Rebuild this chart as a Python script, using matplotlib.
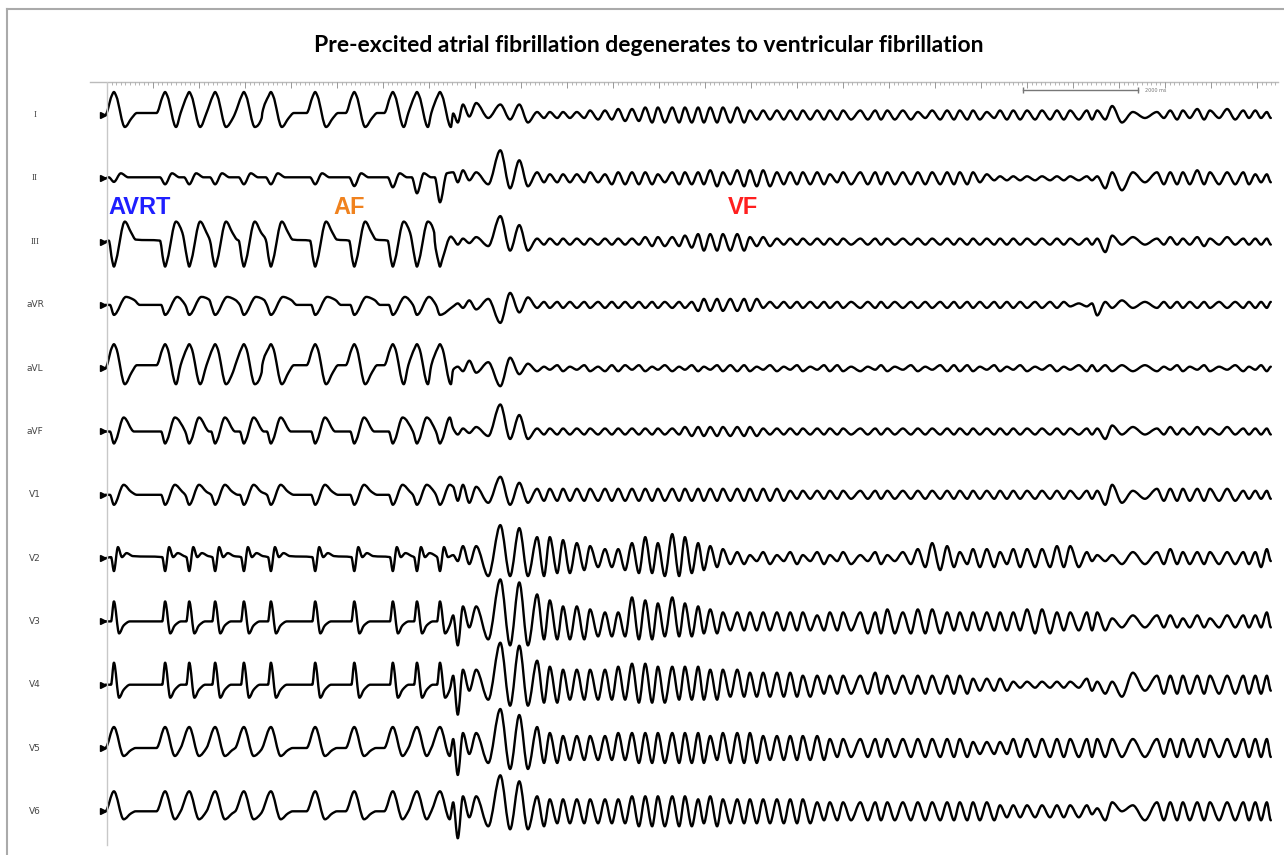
import numpy as np
import matplotlib.pyplot as plt
from matplotlib.lines import Line2D
from matplotlib.path import Path
from matplotlib.patches import PathPatch

# 12-lead ECG, pre-excited AF degenerating to VF
LEADS = ["I", "II", "III", "aVR", "aVL", "aVF", "V1", "V2", "V3", "V4", "V5", "V6"]

# QRS times of the wide pre-excited beats (s)
BEATS = [0.12, 1.01, 1.43, 1.88, 2.38, 2.85, 3.62, 4.30, 4.97, 5.39, 5.79]

# beat shape per lead: (time from beat s, amplitude mV)
TEMPLATES = {
    "I":   [(-0.15, 0.2), (-0.04, 1.9), (0, 2.3), (0.04, 1.9), (0.19, -1.2), (0.31, -0.3), (0.40, 0.2)],
    "II":  [(-0.09, 0.1), (0, -0.6), (0.12, 0.5), (0.25, 0.1)],
    "III": [(-0.09, 0.1), (-0.03, -1.9), (0, -2.5), (0.04, -1.8), (0.19, 2.0), (0.30, 0.9), (0.38, 0.2)],
    "aVR": [(-0.07, 0.0), (0, -1.0), (0.21, 0.8), (0.35, 0.5), (0.45, 0.0)],
    "aVL": [(-0.15, 0.3), (-0.04, 2.0), (0, 2.4), (0.04, 2.0), (0.19, -1.6), (0.31, -0.4), (0.40, 0.3)],
    "aVF": [(-0.07, 0.0), (0, -1.2), (0.04, -0.8), (0.17, 1.4), (0.35, 0.0)],
    "V1":  [(-0.07, 0.0), (0, -1.0), (0.17, 1.0), (0.30, 0.3), (0.40, 0.0)],
    "V2":  [(-0.05, 0.1), (0, -1.3), (0.07, 1.1), (0.14, 0.1), (0.22, 0.5), (0.33, 0.2)],
    "V3":  [(-0.05, 0.0), (0, 2.0), (0.09, -1.2), (0.17, -0.4), (0.28, 0.0)],
    "V4":  [(-0.05, 0.0), (0, 2.2), (0.09, -1.3), (0.17, -0.5), (0.28, 0.0)],
    "V5":  [(-0.15, 0.0), (0, 2.1), (0.17, -0.8), (0.30, -0.2), (0.38, 0.0)],
    "V6":  [(-0.15, 0.0), (0, 2.0), (0.17, -0.8), (0.30, -0.2), (0.38, 0.0)],
}
NEG_GAIN = {"II": [0.6, 1, 1, 1, 1, 1, 1, 1.3, 1.5, 2.5, 4.0]}
POS_GAIN = {"III": [1, 1, 1, 1, 1, 1, 1, 1, 1, 1, 0.25]}

# extremum times of the fibrillation (peak, trough, peak, ...) in s
VF_T = [6.02, 6.10, 6.19, 6.30, 6.42, 6.63, 6.84, 7.01, 7.17, 7.32, 7.48, 7.60,
        7.70, 7.83, 7.93, 8.05, 8.17, 8.30, 8.40, 8.54, 8.66, 8.78, 8.89, 9.01,
        9.13, 9.25, 9.36, 9.48, 9.58, 9.70, 9.83, 9.95, 10.05, 10.17, 10.28, 10.38,
        10.49, 10.61, 10.71, 10.84, 10.96, 11.08, 11.18, 11.30, 11.41, 11.53, 11.65, 11.77,
        11.88, 12.00, 12.10, 12.23, 12.35, 12.47, 12.57, 12.70, 12.80, 12.94, 13.10, 13.23,
        13.36, 13.46, 13.57, 13.70, 13.84, 13.98, 14.10, 14.23, 14.35, 14.49, 14.61, 14.73,
        14.83, 14.96, 15.06, 15.18, 15.30, 15.43, 15.53, 15.65, 15.76, 15.88, 16.00, 16.14,
        16.26, 16.40, 16.52, 16.64, 16.75, 16.90, 17.04, 17.13, 17.22, 17.36, 17.48, 17.65,
        17.84, 18.05, 18.26, 18.38, 18.49, 18.61, 18.71, 18.83, 18.96, 19.08, 19.18, 19.34,
        19.48, 19.62, 19.76, 19.86, 19.97, 20.07, 20.17, 20.24]

# per-lead amplitude step (mV per digit) and inverted polarity
VF_UNIT = {"I": 0.15, "II": 0.2, "III": 0.15, "aVR": 0.15, "aVL": 0.15, "aVF": 0.15,
           "V1": 0.2, "V2": 0.3, "V3": 0.3, "V4": 0.3, "V5": 0.3, "V6": 0.3}
VF_FLIP = ["aVR", "aVL"]

# peak heights / trough depths of every fibrillation cycle, base-36 digits
VF_PEAK = {
    "I":   "178" "77" "2222334455" "55555533333333" "3333233332333333" "3362" "233434332",
    "II":  "343" "E9" "3222323332" "33343444333323" "3333333332111111" "1133" "333433322",
    "III": "223" "HB" "2222222233" "34555533222222" "2222222222222222" "2243" "232323222",
    "aVR": "123" "C5" "2222222222" "22444442222222" "2222222222222221" "1722" "222222222",
    "aVL": "123" "C4" "2121222121" "21212221212122" "2121212221212121" "2222" "212121212",
    "aVF": "223" "IB" "2222222222" "23333332222222" "2222222222222222" "2243" "232323222",
    "V1":  "454" "96" "3333333333" "33333333322222" "2222222222222222" "2252" "333333222",
    "V2":  "144" "BA" "7765433575" "87543212121212" "1212354233233344" "2112" "232222223",
    "V3":  "255" "ED" "9755433876" "86543333333233" "3343443333334433" "3312" "221212223",
    "V4":  "355" "ED" "8655556776" "66655544443333" "3433333322211111" "2114" "333333333",
    "V5":  "355" "DB" "7544445555" "55545554444433" "3333333322233333" "3333" "333333333",
    "V6":  "355" "CA" "5444444555" "55454444444333" "3333333333222222" "2132" "333333333",
}
VF_TROUGH = {
    "I":   "512" "35" "2222334455" "55555533333333" "3333233332333333" "3352" "232323222",
    "II":  "213" "54" "2222233332" "33343444333323" "3333333321111111" "1562" "333333322",
    "III": "213" "66" "2222222233" "34666633222222" "2222222222222222" "2722" "222322222",
    "aVR": "134" "85" "2222222222" "22444442222222" "2222222222222221" "1232" "222222222",
    "aVL": "154" "73" "1212122212" "12122212121221" "1212122212121212" "2222" "121212121",
    "aVF": "213" "55" "2222222222" "23333332222222" "2222222222222222" "2522" "222222222",
    "V1":  "344" "54" "3333333333" "33333333322222" "2222222222222222" "2542" "333333222",
    "V2":  "126" "66" "6554334556" "65432212121212" "1212343233233333" "1122" "222222231",
    "V3":  "826" "88" "6666555665" "55443333333333" "4444443333334433" "3322" "222222222",
    "V4":  "A25" "77" "6655555666" "55554444444333" "3333333322211111" "2342" "333333332",
    "V5":  "925" "77" "5544444555" "55545554444433" "3333333322233333" "3333" "333333333",
    "V6":  "925" "66" "5444444555" "55454444444333" "3333333333222222" "1303" "333333333",
}

ANNOTATIONS = [("AVRT", 0.02, "#1f1fff"), ("AF", 3.93, "#f0821e"), ("VF", 10.80, "#ff1f1f")]

W, H = 1284, 855
fig = plt.figure(figsize=(W / 100, H / 100), dpi=100)
fig.patch.set_facecolor("white")

# axes in px: x 90..1282, y 82..850
ax = fig.add_axes([90 / W, 5 / H, 1192 / W, 768 / H])
ax.set_xlim(-0.296, 20.434)
ax.set_ylim(-73.5, 3.3)
ax.axis("off")

ROW = 6.33


def lead_trace(name):
    tmpl = TEMPLATES[name]
    ng = NEG_GAIN.get(name, [1] * len(BEATS))
    pg = POS_GAIN.get(name, [1] * len(BEATS))
    ts, vs = [-0.03], [0.0]
    for i, b in enumerate(BEATS):
        stop = BEATS[i + 1] + tmpl[0][0] if i + 1 < len(BEATS) else VF_T[0] - 0.02
        for dt, a in tmpl:
            t = b + dt
            if t >= stop:
                break
            if t <= ts[-1] + 0.01:
                continue
            ts.append(t)
            vs.append(a * (pg[i] if a > 0 else ng[i]))
    sign = -1 if name in VF_FLIP else 1
    unit = VF_UNIT[name]
    for k, (p, q) in enumerate(zip(VF_PEAK[name], VF_TROUGH[name])):
        if 2 * k + 1 >= len(VF_T):
            break
        ts += [VF_T[2 * k], VF_T[2 * k + 1]]
        vs += [sign * int(p, 36) * unit, -sign * int(q, 36) * unit]
    return np.array(ts), np.array(vs)


def smooth_path(t, v):
    # monotone cubic through the vertices, drawn as bezier segments
    h = np.diff(t)
    d = np.diff(v) / h
    m = np.zeros_like(v)
    for k in range(1, len(v) - 1):
        if d[k - 1] * d[k] > 0:
            w1 = 2 * h[k] + h[k - 1]
            w2 = h[k] + 2 * h[k - 1]
            m[k] = (w1 + w2) / (w1 / d[k - 1] + w2 / d[k])
    verts = [(t[0], v[0])]
    codes = [Path.MOVETO]
    for k in range(len(h)):
        verts += [(t[k] + h[k] / 3, v[k] + m[k] * h[k] / 3),
                  (t[k + 1] - h[k] / 3, v[k + 1] - m[k + 1] * h[k] / 3),
                  (t[k + 1], v[k + 1])]
        codes += [Path.CURVE4] * 3
    return Path(verts, codes)


for i, name in enumerate(LEADS):
    base = -i * ROW
    t, v = lead_trace(name)
    ax.add_patch(PathPatch(smooth_path(t, v + base), fill=False, ec="black", lw=1.7,
                           joinstyle="round", capstyle="round"))
    ax.plot([-0.07], [base], marker=">", ms=5, color="black", clip_on=False)
    fam = "Liberation Serif" if name in ("I", "II", "III") else "DejaVu Sans"
    fig.text(35 / W, 1 - (115 + 63.3 * i) / H, name, ha="center", va="center",
             fontsize=6.5, color="#444444", family=fam)

# ruler on top
ax.plot([-0.3, 20.36], [3.3, 3.3], color="#bbbbbb", lw=1, clip_on=False)
minor = np.arange(0, 20.36, 0.08)
major = np.arange(0, 20.36, 0.8)
ax.vlines(minor, 3.0, 3.3, color="#aaaaaa", lw=0.6)
ax.vlines(major, 2.7, 3.3, color="#999999", lw=0.7)
ax.plot([0, 0], [3.3, -73.0], color="#c8c8c8", lw=1)

# 2000 ms scale bar
ax.plot([15.93, 17.93], [2.5, 2.5], color="#777777", lw=1)
ax.vlines([15.93, 17.93], 2.2, 2.8, color="#777777", lw=1)
ax.text(18.05, 2.5, "2000 ms", fontsize=3.5, color="#777777", va="center")

for label, x, col in ANNOTATIONS:
    ax.text(x, -9.2, label, color=col, fontsize=17, fontweight="bold",
            family="Liberation Sans", va="center", ha="left")

fig.text(649 / W, 1 - 45 / H,
         "Pre-excited atrial fibrillation degenerates to ventricular fibrillation",
         ha="center", va="center", fontsize=16.5, fontweight="bold", family="Lato")

# outer frame (left and top)
fig.add_artist(Line2D([7 / W, 7 / W], [0, 1 - 9 / H], color="#aaaaaa", lw=1.5))
fig.add_artist(Line2D([7 / W, 1], [1 - 9 / H, 1 - 9 / H], color="#aaaaaa", lw=1.5))

fig.savefig("out.png", dpi=100, facecolor="white")
